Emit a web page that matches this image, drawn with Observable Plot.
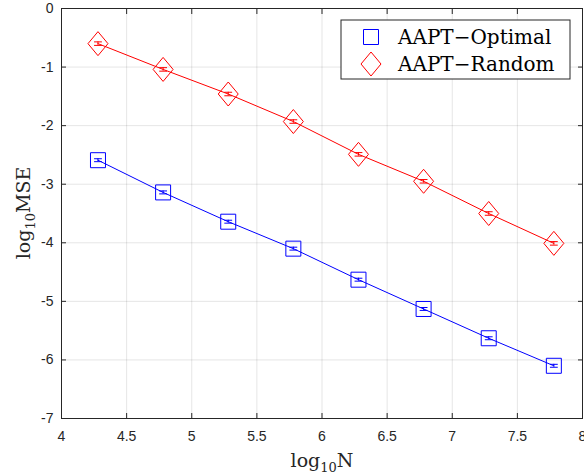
<!DOCTYPE html>
<html>
<head>
<meta charset="utf-8">
<script src="https://cdn.jsdelivr.net/npm/d3@7"></script>
<script src="https://cdn.jsdelivr.net/npm/@observablehq/plot@0.6"></script>
<style>
  html, body { margin: 0; padding: 0; background: #fff; }
  #chart { position: relative; width: 584px; height: 474px; }
</style>
</head>
<body>
<div id="chart"></div>
<script>
// ---- data ----
const log10N = [4.28, 4.78, 5.28, 5.78, 6.28, 6.78, 7.28, 7.78];
const optimalMSE = [-2.59, -3.14, -3.64, -4.10, -4.63, -5.13, -5.63, -6.10];
const randomMSE = [-0.60, -1.04, -1.46, -1.93, -2.49, -2.95, -3.50, -4.01];
const optimalErr = [0.025, 0.025, 0.025, 0.025, 0.025, 0.025, 0.025, 0.025];
const randomErr = [0.03, 0.03, 0.03, 0.03, 0.03, 0.03, 0.03, 0.03];
const seriesNames = ["AAPT\u2212Optimal", "AAPT\u2212Random"];
const seriesColors = ["#0000ff", "#ff0000"];
const xTicks = [4, 4.5, 5, 5.5, 6, 6.5, 7, 7.5, 8];
const yTicks = [0, -1, -2, -3, -4, -5, -6, -7];

const rows = [];
log10N.forEach((x, i) => {
  rows.push({series: seriesNames[0], x, y: optimalMSE[i], e: optimalErr[i]});
  rows.push({series: seriesNames[1], x, y: randomMSE[i], e: randomErr[i]});
});
const opt = rows.filter(d => d.series === seriesNames[0]);
const rnd = rows.filter(d => d.series === seriesNames[1]);

const squareSym = {draw(ctx, size) { const r = Math.sqrt(size / Math.PI) * 0.75; ctx.moveTo(-r, -r); ctx.lineTo(r, -r); ctx.lineTo(r, r); ctx.lineTo(-r, r); ctx.closePath(); }};
const diamondSym = {draw(ctx, size) { const r = Math.sqrt(size / Math.PI); const w = r, h = r * 1.2; ctx.moveTo(0, -h); ctx.lineTo(w, 0); ctx.lineTo(0, h); ctx.lineTo(-w, 0); ctx.closePath(); }};

const capW = 0.03;
function seriesMarks(data, color, sym) {
  return [
    Plot.line(data, {x: "x", y: "y", stroke: color, strokeWidth: 1}),
    Plot.ruleX(data, {x: "x", y1: d => d.y - d.e, y2: d => d.y + d.e, stroke: color, strokeWidth: 1}),
    Plot.link(data, {x1: d => d.x - capW, x2: d => d.x + capW, y1: d => d.y + d.e, y2: d => d.y + d.e, stroke: color, strokeWidth: 1}),
    Plot.link(data, {x1: d => d.x - capW, x2: d => d.x + capW, y1: d => d.y - d.e, y2: d => d.y - d.e, stroke: color, strokeWidth: 1}),
    Plot.dot(data, {x: "x", y: "y", r: 10, symbol: sym, stroke: color, fill: "none", strokeWidth: 1})
  ];
}

const chart = Plot.plot({
  width: 584, height: 474,
  marginLeft: 61, marginRight: 2, marginTop: 8, marginBottom: 56,
  style: {fontFamily: "'Liberation Sans', Arial, Helvetica, sans-serif", fontSize: "14px", color: "#262626", background: "#fff"},
  x: {domain: [4, 8]},
  y: {domain: [-7, 0]},
  marks: [
    Plot.gridX(xTicks, {stroke: "#000", strokeOpacity: 0.1}),
    Plot.gridY(yTicks, {stroke: "#000", strokeOpacity: 0.1}),
    Plot.axisX(xTicks, {anchor: "bottom", tickSize: -5, tickPadding: 18, tickFormat: d => String(d), label: null, stroke: "#262626"}),
    Plot.axisX(xTicks, {anchor: "top", tickSize: -5, tickFormat: () => "", label: null, stroke: "#262626"}),
    Plot.axisY(yTicks, {anchor: "left", tickSize: -5, tickPadding: 13, tickFormat: d => String(d), label: null, stroke: "#262626"}),
    Plot.axisY(yTicks, {anchor: "right", tickSize: -5, tickFormat: () => "", label: null, stroke: "#262626"}),
    ...seriesMarks(opt, seriesColors[0], squareSym),
    ...seriesMarks(rnd, seriesColors[1], diamondSym),
    Plot.frame({stroke: "#262626", strokeWidth: 1})
  ]
});
document.getElementById("chart").appendChild(chart);

// ---- axis labels with subscripts ----
const svg = d3.select(chart);
const serif = "'DejaVu Serif', 'Liberation Serif', serif";
const xl = svg.append("text").attr("x", 322).attr("y", 467).attr("text-anchor", "middle")
  .attr("font-family", serif).attr("font-size", 19).attr("fill", "#262626");
xl.append("tspan").text("log");
xl.append("tspan").attr("font-size", 13).attr("dy", 5).text("10");
xl.append("tspan").attr("dy", -5).text("N");

const yl = svg.append("text").attr("transform", "translate(30,213) rotate(-90)").attr("text-anchor", "middle")
  .attr("font-family", serif).attr("font-size", 19).attr("fill", "#262626");
yl.append("tspan").text("log");
yl.append("tspan").attr("font-size", 13).attr("dy", 5).text("10");
yl.append("tspan").attr("dy", -5).text("MSE");

// ---- legend ----
const lg = svg.append("g").attr("transform", "translate(341,20)").attr("text-anchor", "start");
lg.append("rect").attr("width", 229).attr("height", 59).attr("fill", "#fff").attr("stroke", "#262626").attr("stroke-width", 1);
const syms = [squareSym, diamondSym];
seriesNames.forEach((name, i) => {
  const cy = 17 + i * 27;
  lg.append("path").attr("transform", `translate(30,${cy})`)
    .attr("d", d3.symbol(syms[i], Math.PI * 100)())
    .attr("fill", "none").attr("stroke", seriesColors[i]);
  lg.append("text").attr("x", 57).attr("y", cy).attr("dy", "0.36em").attr("text-anchor", "start")
    .attr("font-family", serif).attr("font-size", 20).attr("fill", "#000").text(name);
});
</script>
</body>
</html>
